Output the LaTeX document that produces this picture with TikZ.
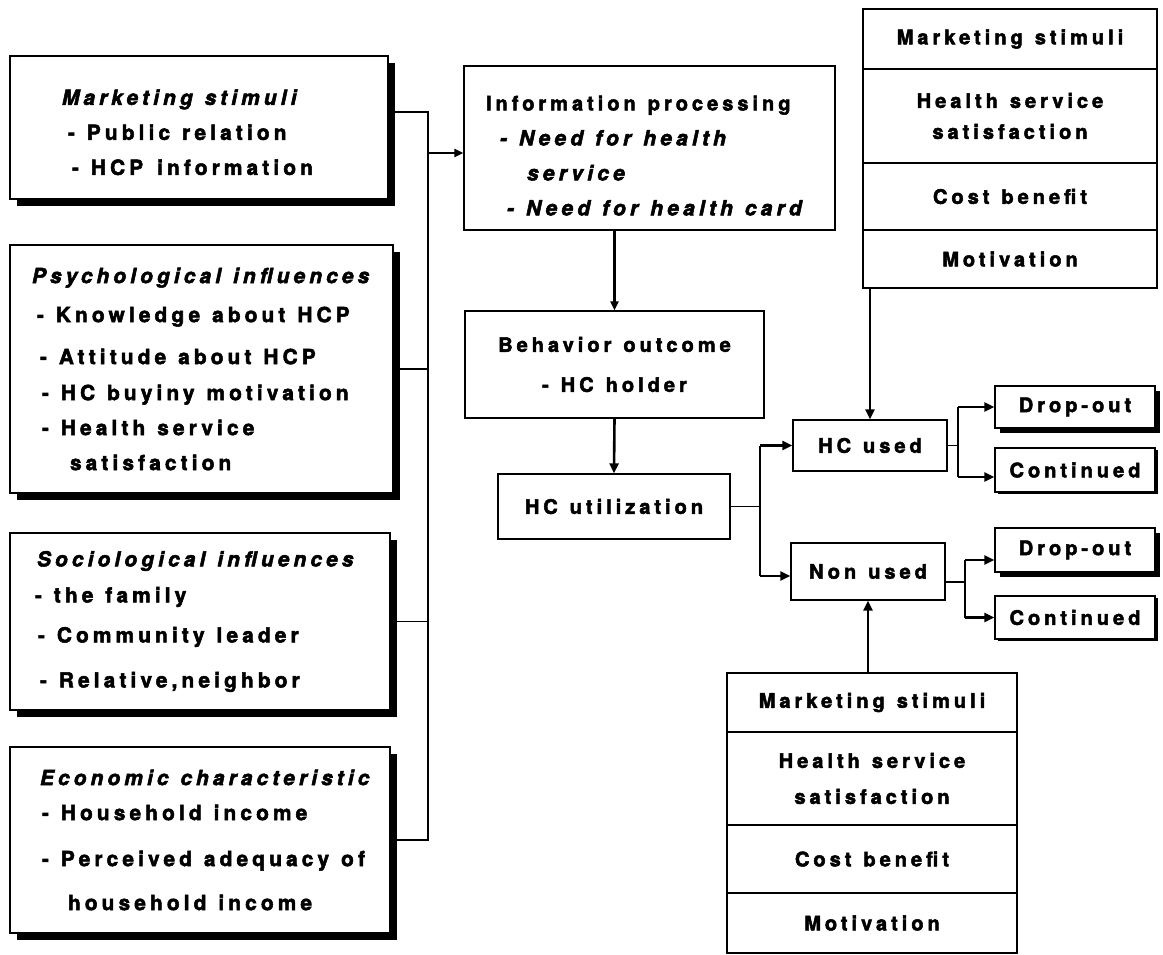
\documentclass[tikz,border=0pt]{standalone}
\usepackage{fontspec}
\setmainfont{TeX Gyre Heros}[LetterSpace=20, BoldFeatures={FakeBold=2.5}, BoldItalicFeatures={FakeBold=2.5}]
\usetikzlibrary{arrows.meta,shadows}
\newcommand\fs[1]{\fontsize{20}{#1}\selectfont\bfseries}
\newcommand\fl[1]{\fontsize{20.8}{#1}\selectfont\bfseries}
\newcommand\ind[1]{\hspace*{#1pt}}
\newcommand\sk{\hspace{12pt}}
\newcommand\itl[1]{{\fontsize{21}{35}\selectfont\textit{#1}}}
\tikzset{
  bx/.style={draw, line width=1.3pt, fill=white, inner sep=0pt, font={\fs{35}}},
  lbox/.style={bx, align=left, drop shadow={shadow xshift=6.5pt, shadow yshift=-6.5pt, fill=black, opacity=1}},
  cbox/.style={bx, align=center},
  dbox/.style={cbox, drop shadow={shadow xshift=5pt, shadow yshift=-5pt, fill=black, opacity=1}},
  kbox/.style={cbox, drop shadow={shadow xshift=2.5pt, shadow yshift=-2pt, fill=black, opacity=1}},
  conn/.style={line width=1.4pt},
  arr/.style={line width=2.2pt, -{Triangle[length=9pt,width=8pt]}},
  arrb/.style={line width=2.6pt, -{Triangle[length=10pt,width=9pt]}}
}
\begin{document}
\begin{tikzpicture}[x=1pt,y=-1pt]
\useasboundingbox[fill=white] (0,0) rectangle (1163,954);

% left boxes
\node[lbox, text width=378pt, minimum height=143pt, font={\fl{35}}] (ms) at (199,127.5)
  {\rule{0pt}{25pt}\ind{52}\textit{Marketing\sk stimuli}\\
   \ind{58}-\sk Public\sk relation\\
   \ind{62}-\sk HCP\hspace{14pt}information};
\node[lbox, text width=383pt, minimum height=248pt, font={\fl{35}}] (ps) at (201.5,369)
  {\ind{22}\textit{Psychological\sk influences}\\[4pt]
   \ind{27}-\sk Knowledge\sk about\sk HCP\\[7pt]
   \ind{30}-\sk Attitude\sk about\sk HCP\\[1pt]
   \ind{32}-\sk HC\sk buyiny\sk motivation\\
   \ind{32}-\sk Health\sk service\\
   \ind{60}satisfaction};
\node[lbox, text width=380pt, minimum height=177pt, font={\fl{36}}] (so) at (200,621.5)
  {\ind{27}\textit{Sociological\sk influences}\\
   \ind{25}-\sk the\sk family\\[4pt]
   \ind{28}-\sk Community\sk leader\\[9pt]
   \ind{30}-\sk Relative,neighbor};
\node[lbox, text width=380pt, minimum height=186pt, font={\fl{35}}] (ec) at (200,840)
  {\ind{30}\textit{Economic\sk characteristic}\\
   \ind{32}-\sk Household\sk income\\[11pt]
   \ind{32}-\sk Perceived\sk adequacy\sk of\\[9pt]
   \ind{58}household\sk income};

% middle column
\node[bx, align=left, text width=371pt, minimum height=164pt, font={\fs{35}}] (info) at (649.5,148)
  {\rule{0pt}{30pt}\ind{22}Information\sk processing\\
   \ind{36}\itl{-\sk Need\sk for\sk health}\\
   \ind{63}\itl{service}\\
   \ind{43}\itl{-\sk Need\sk for\sk health\sk card}};
\node[cbox, text width=299pt, minimum height=107pt, font={\fs{40}}] (beh) at (614.5,364.5)
  {Behavior\sk outcome\\-\sk HC\sk holder};
\node[cbox, text width=232pt, minimum height=65pt] (util) at (614,506.5) {HC\sk utilization};
\node[cbox, text width=154pt, minimum height=51pt] (hcu) at (870,445.5) {HC\sk used};
\node[cbox, text width=154pt, minimum height=57pt] (nonu) at (868,571.5) {Non\sk used};

% outcome boxes
\node[dbox, text width=160pt, minimum height=42pt] (d1) at (1075,407) {Drop-out};
\node[kbox, text width=160pt, minimum height=44pt] (c1) at (1075,470) {Continued};
\node[dbox, text width=160pt, minimum height=44pt] (d2) at (1075,550) {Drop-out};
\node[kbox, text width=160pt, minimum height=43pt] (c2) at (1075,617.5) {Continued};

% top-right table
\node[cbox, text width=294pt, minimum height=60pt] (tr1) at (1010,39) {Marketing\sk stimuli};
\node[cbox, text width=294pt, minimum height=94pt, font={\fs{31}}] (tr2) at (1010,116) {Health\sk service\\satisfaction};
\node[cbox, text width=294pt, minimum height=67pt] (tr3) at (1010,196.5) {Cost\sk benefit};
\node[cbox, text width=294pt, minimum height=58pt] (tr4) at (1010,259) {Motivation};

% bottom table
\node[cbox, text width=290pt, minimum height=59pt] (b1) at (872,702.5) {Marketing\sk stimuli};
\node[cbox, text width=290pt, minimum height=93pt, font={\fs{36}}] (b2) at (872,778.5) {Health\sk service\\satisfaction};
\node[cbox, text width=290pt, minimum height=68pt] (b3) at (872,859) {Cost\sk benefit};
\node[cbox, text width=290pt, minimum height=60pt] (b4) at (872,923) {Motivation};

% left junction
\coordinate (jl) at (428,0);
\coordinate (msa) at ([yshift=15.5pt]ms.east);
\draw[conn] (msa) -| (ec.east -| jl) -- (ec.east);
\draw[conn] (ps.east) -- (ps.east -| jl);
\draw[conn] (so.east) -- (so.east -| jl);
\coordinate (ia) at ([yshift=-5pt]info.west);
\draw[arr] (ia -| jl) -- (ia);

% middle arrows
\draw[arr] (info.south -| beh.north) -- (beh.north);
\draw[arrb] (beh.south) -- (util.north);

% utilization junction
\coordinate (jm) at (760,0);
\coordinate (nua) at ([yshift=-4.5pt]nonu.west);
\draw[conn] (util.east) -- (util.east -| jm);
\draw[conn] (hcu.west -| jm) -- (nua -| jm);
\draw[arrb] (hcu.west -| jm) -- (hcu.west);
\draw[arrb] (nua -| jm) -- (nua);

% HC used junction
\coordinate (jr1) at (958,0);
\coordinate (c1a) at ([yshift=-7pt]c1.west);
\draw[conn] (hcu.east) -- (hcu.east -| jr1);
\draw[conn] (d1.west -| jr1) -- (c1a -| jr1);
\draw[arrb] (d1.west -| jr1) -- (d1.west);
\draw[arrb] (c1a -| jr1) -- (c1a);

% Non used junction
\coordinate (jr2) at (965,0);
\coordinate (nue) at ([yshift=-10.5pt]nonu.east);
\coordinate (d2a) at ([yshift=-10pt]d2.west);
\draw[conn] (nue) -- (nue -| jr2);
\draw[conn] (d2a -| jr2) -- (c2.west -| jr2);
\draw[arrb] (d2a -| jr2) -- (d2a);
\draw[arrb] (c2.west -| jr2) -- (c2.west);

% table arrows
\draw[arrb] (tr4.south -| hcu.north) -- (hcu.north);
\draw[arrb] (b1.north -| nonu.south) -- (nonu.south);
\end{tikzpicture}
\end{document}
